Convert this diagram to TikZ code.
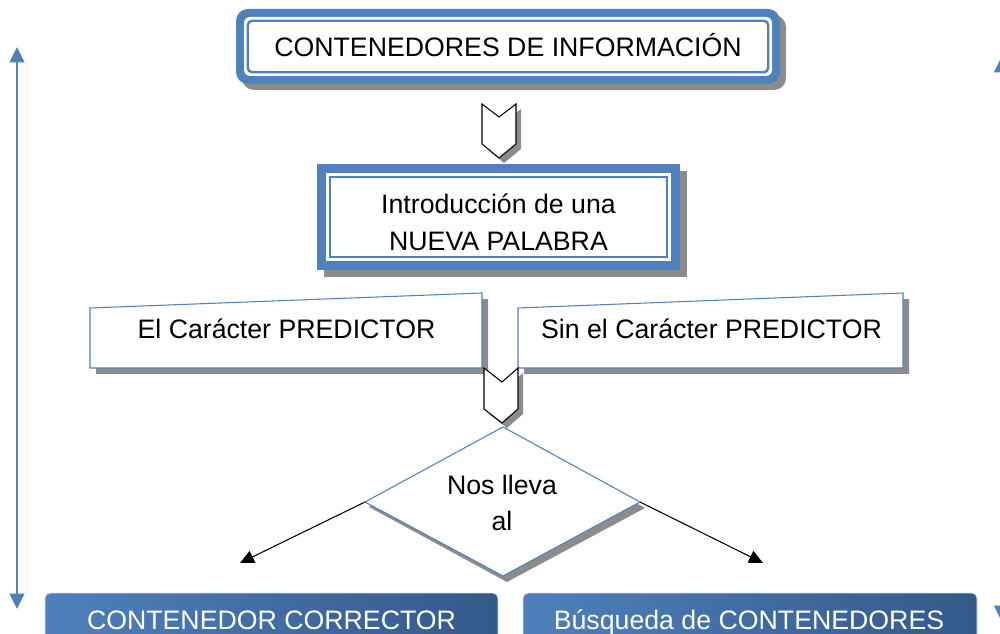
\documentclass[tikz,border=0pt]{standalone}
\usepackage{fontspec}
\setmainfont{Liberation Sans}
\usetikzlibrary{arrows.meta}
\definecolor{obl}{HTML}{4F81BD}
\definecolor{shd}{HTML}{8C8C8C}
\definecolor{gdark}{HTML}{34598A}
\definecolor{glight}{HTML}{4E80BD}
\begin{document}
\begin{tikzpicture}[x=0.02cm,y=-0.02cm,
  txt/.style={font=\fontsize{15.2}{21}\selectfont, align=center, inner sep=0pt},
  shadowfill/.style={fill=shd, draw=none},
  chev/.style={fill=white, draw=black, line width=0.6pt, line join=miter},
  thinblue/.style={fill=white, draw=obl, line width=0.6pt},
  vbar/.style={draw=obl, line width=0.85pt, {Triangle[length=0.31cm,width=0.3cm]}-{Triangle[length=0.31cm,width=0.3cm]}},
  darr/.style={draw=black, line width=0.6pt, -{Triangle[length=0.28cm,width=0.26cm]}},
  botbox/.style={left color=glight, right color=gdark, draw=gray!25, line width=0.5pt, rounded corners=0.1cm},
]
\useasboundingbox (0,0) rectangle (1000,634);
\clip (0,0) rectangle (1000,634);

% side arrows
\coordinate (la) at (17,47); \coordinate (lb) at (17,609);
\draw[vbar] (la) -- (lb);
\coordinate (ra) at (1001.5,57); \coordinate (rb) at (1001.5,621);
\draw[vbar] (ra) -- (rb);

% top box
\fill[shadowfill, rounded corners=0.24cm] (242,15) rectangle (786,90);
\fill[obl, rounded corners=0.24cm] (236,9) rectangle (780,84);
\fill[white, rounded corners=0.12cm] (244,17) rectangle (772,76);
\draw[obl, line width=1.4pt, rounded corners=0.09cm] (247.75,20.75) rectangle (768.25,72.25);
\node[txt, anchor=base] (top) at (508,57) {CONTENEDORES DE INFORMACIÓN};

% chevron 1
\fill[shadowfill] (487,109) -- (504,122) -- (521,109) -- (521,149) -- (504,163) -- (487,149) -- cycle;
\draw[chev] (482,104) -- (499,117) -- (516,104) -- (516,144) -- (499,158) -- (482,144) -- cycle;

% box 2
\fill[shadowfill] (324,171) rectangle (687,277);
\fill[obl] (317,164) rectangle (680,270);
\fill[white] (326,173) rectangle (671,261);
\draw[obl, line width=1.1pt] (330,177) rectangle (667,257);
\node[txt] (intro) at (498.5,222) {Introducción de una\\NUEVA PALABRA};

% boxes 3 and 4
\fill[shadowfill] (96,314) -- (488,299) -- (488,374) -- (96,374) -- cycle;
\draw[thinblue] (90,308) -- (482,293) -- (482,368) -- (90,368) -- cycle;
\node[txt, anchor=base] (con) at (286.5,338.5) {El Carácter PREDICTOR};
\fill[shadowfill] (524,314) -- (909,299) -- (909,374) -- (524,374) -- cycle;
\draw[thinblue] (518,308) -- (903,293) -- (903,368) -- (518,368) -- cycle;
\node[txt, anchor=base] (sin) at (711.5,338.5) {Sin el Carácter PREDICTOR};

% chevron 2
\fill[shadowfill] (489,373) -- (507,387) -- (523,373) -- (523,414) -- (507,428) -- (489,414) -- cycle;
\draw[chev] (484,368) -- (502,382) -- (518,368) -- (518,409) -- (502,423) -- (484,409) -- cycle;

% diamond
\fill[shadowfill] (507,432) -- (645,508) -- (507,582) -- (369,507) -- cycle;
\coordinate (dt) at (503,427);
\coordinate (dr) at (640,502);
\coordinate (db) at (503,576);
\coordinate (dl) at (365,502);
\draw[thinblue] (dt) -- (dr) -- (db) -- (dl) -- cycle;
\node[txt] (nos) at (502,503) {Nos lleva\\al};

% arrows
\coordinate (al) at (240,563);
\coordinate (ar) at (763,563);
\draw[darr] (dl) -- (al);
\draw[darr] (dr) -- (ar);

% bottom boxes
\shade[botbox] (45,593) rectangle (498,670);
\node[txt, anchor=base, text=white] (cc) at (271.5,629) {CONTENEDOR CORRECTOR};
\shade[botbox] (523,593) rectangle (977,670);
\node[txt, anchor=base, text=white] (bc) at (749,629) {Búsqueda de CONTENEDORES};
\end{tikzpicture}
\end{document}
